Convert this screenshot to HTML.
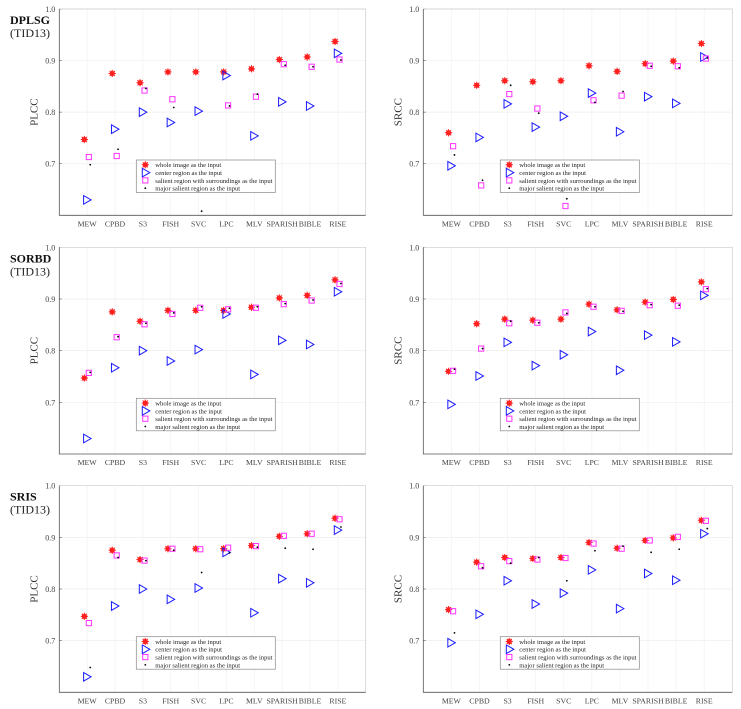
<!DOCTYPE html>
<html><head><meta charset="utf-8"><style>
html,body{margin:0;padding:0;background:#fff;}
svg{display:block;font-family:"Liberation Serif",serif;}
</style></head><body>
<svg id="fig" width="741" height="709" viewBox="0 0 741 709" xmlns="http://www.w3.org/2000/svg"></svg>
<script>
const categories=["MEW","CPBD","S3","FISH","SVC","LPC","MLV","SPARISH","BIBLE","RISE"];
const yTicks=[0.7,0.8,0.9,1.0];
const yTickLabels=["0.7","0.8","0.9","1.0"];
const legendLabels=["whole image as the input","center region as the input","salient region with surroundings as the input","major salient region as the input"];
const plccWhole=[0.747,0.875,0.857,0.878,0.878,0.878,0.884,0.902,0.907,0.937];
const plccCenter=[0.630,0.767,0.800,0.780,0.802,0.871,0.754,0.820,0.812,0.914];
const srccWhole=[0.760,0.852,0.861,0.859,0.861,0.890,0.879,0.894,0.899,0.933];
const srccCenter=[0.696,0.751,0.816,0.771,0.792,0.837,0.762,0.830,0.817,0.907];
const dplsgPlccSal=[0.713,0.715,0.842,0.825,0.59,0.813,0.830,0.893,0.888,0.902];
const dplsgPlccMajor=[0.698,0.728,0.846,0.809,0.608,0.812,0.835,0.891,0.888,0.901];
const dplsgSrccSal=[0.734,0.658,0.835,0.807,0.618,0.823,0.832,0.890,0.889,0.904];
const dplsgSrccMajor=[0.717,0.668,0.852,0.798,0.632,0.819,0.840,0.889,0.886,0.905];
const sorbdPlccSal=[0.757,0.826,0.851,0.871,0.883,0.880,0.883,0.890,0.897,0.929];
const sorbdPlccMajor=[0.758,0.827,0.853,0.873,0.885,0.882,0.885,0.891,0.898,0.930];
const sorbdSrccSal=[0.761,0.804,0.853,0.854,0.874,0.885,0.877,0.888,0.887,0.919];
const sorbdSrccMajor=[0.764,0.804,0.857,0.854,0.872,0.885,0.876,0.889,0.888,0.920];
const srisPlccSal=[0.734,0.865,0.855,0.878,0.877,0.880,0.883,0.903,0.907,0.935];
const srisPlccMajor=[0.648,0.861,0.855,0.875,0.832,0.870,0.881,0.879,0.877,0.920];
const srisSrccSal=[0.757,0.844,0.854,0.857,0.860,0.888,0.878,0.894,0.901,0.932];
const srisSrccMajor=[0.715,0.841,0.850,0.861,0.816,0.874,0.883,0.871,0.877,0.917];

const NS="http://www.w3.org/2000/svg";
const svg=document.getElementById('fig');
function mk(tag,attrs,parent){const e=document.createElementNS(NS,tag);for(const k in attrs)e.setAttribute(k,attrs[k]);(parent||svg).appendChild(e);return e;}

const panels=[
 {l:59.3,r:365.7,t:9,b:215.3,ylab:"PLCC",title:"DPLSG",w:plccWhole,c:plccCenter,s:dplsgPlccSal,m:dplsgPlccMajor,name:"dplsg-plcc"},
 {l:423.3,r:732.3,t:9,b:215.3,ylab:"SRCC",w:srccWhole,c:srccCenter,s:dplsgSrccSal,m:dplsgSrccMajor,name:"dplsg-srcc"},
 {l:59.3,r:365.7,t:247.3,b:454,ylab:"PLCC",title:"SORBD",w:plccWhole,c:plccCenter,s:sorbdPlccSal,m:sorbdPlccMajor,name:"sorbd-plcc"},
 {l:423.3,r:732.3,t:247.3,b:454,ylab:"SRCC",w:srccWhole,c:srccCenter,s:sorbdSrccSal,m:sorbdSrccMajor,name:"sorbd-srcc"},
 {l:59.3,r:365.7,t:485.7,b:692.3,ylab:"PLCC",title:"SRIS",w:plccWhole,c:plccCenter,s:srisPlccSal,m:srisPlccMajor,name:"sris-plcc"},
 {l:423.3,r:732.3,t:485.7,b:692.3,ylab:"SRCC",w:srccWhole,c:srccCenter,s:srisSrccSal,m:srisSrccMajor,name:"sris-srcc"}
];

function star(g,x,y){
  const s=mk('g',{},g);
  
  
  mk('circle',{cx:x,cy:y,r:2.6,fill:'#ff2020'},s);
  const d=3.6;
  mk('path',{d:`M${x-d},${y}H${x+d}M${x},${y-d}V${y+d}M${x-2.6},${y-2.6}L${x+2.6},${y+2.6}M${x-2.6},${y+2.6}L${x+2.6},${y-2.6}`,stroke:'#ff2020','stroke-width':1},s);
}
function tri(g,x,y){
  const p=mk('path',{d:`M${x-3},${y-4.3}L${x+4.5},${y}L${x-3},${y+4.3}Z`,fill:'none',stroke:'#1a1aff','stroke-width':1},g);
  
  
}
function sq(g,x,y){
  const p=mk('rect',{x:x-2.6,y:y-2.6,width:5.2,height:5.2,fill:'none',stroke:'#ff33ff','stroke-width':1},g);
  
  
}
function dot(g,x,y){
  const p=mk('circle',{cx:x,cy:y,r:0.9,fill:'#000'},g);
  
  
}

panels.forEach(P=>{
  const g=mk('g',{});
  
  
  const xs=i=>P.l+(P.r-P.l)*(i+1)/11;
  const xo=(i,o)=>P.l+(P.r-P.l)*(i+1+o)/11;
  const ys=v=>P.b-(v-0.6)/0.4*(P.b-P.t);
  yTicks.forEach((v,k)=>{
    mk('line',{x1:P.l,x2:P.r,y1:ys(v),y2:ys(v),stroke:'#ededed','stroke-width':0.7},g);
    const t=mk('text',{x:P.l-4,y:ys(v)+3,'font-size':8,'text-anchor':'end',fill:'#444'},g);
    t.textContent=yTickLabels[k];
    
    
    mk('line',{x1:P.l,x2:P.l+2.5,y1:ys(v),y2:ys(v),stroke:'#555','stroke-width':0.6},g);
  });
  categories.forEach((c,i)=>{
    mk('line',{x1:xs(i),x2:xs(i),y1:P.t,y2:P.b,stroke:'#f2f2f2','stroke-width':0.7},g);
    const t=mk('text',{x:xs(i),y:P.b+11,'font-size':7.8,'text-anchor':'middle',fill:'#444'},g);
    t.textContent=c;
    
    
  });
  mk('path',{d:`M${P.l},${P.t}H${P.r}V${P.b}`,stroke:'#ccc','stroke-width':0.7,fill:'none'},g);
  mk('path',{d:`M${P.l},${P.t}V${P.b}H${P.r}`,stroke:'#555','stroke-width':0.8,fill:'none'},g);
  const yl=mk('text',{x:0,y:0,'font-size':11,'text-anchor':'middle',fill:'#333',transform:`translate(${P.l-22},${(P.t+P.b)/2}) rotate(-90)`},g);
  yl.textContent=P.ylab;
  
  
  if(P.title){
    const t1=mk('text',{x:10,y:P.t+15,'font-size':12,'font-weight':'bold',fill:'#111'},g);
    t1.textContent=P.title;
    
    
    const t2=mk('text',{x:10,y:P.t+28,'font-size':12,fill:'#222'},g);
    t2.textContent="(TID13)";
    
    
  }
  const inR=v=>v>=0.6&&v<=1.0;
  categories.forEach((c,i)=>{
    if(inR(P.w[i]))star(g,xo(i,-0.1),ys(P.w[i]));
    if(inR(P.c[i]))tri(g,xo(i,-0.02),ys(P.c[i]));
    if(inR(P.s[i]))sq(g,xo(i,0.06),ys(P.s[i]));
    if(inR(P.m[i]))dot(g,xo(i,0.11),ys(P.m[i]));
  });
  const lx=P.l+77,ly=P.t+151;
  const lg=mk('g',{},g);
  
  
  mk('rect',{x:lx,y:ly,width:139,height:32.5,fill:'#fff',stroke:'#888','stroke-width':0.7},lg);
  const fns=[star,tri,sq,dot];
  legendLabels.forEach((lab,k)=>{
    const yy=ly+4.8+k*7.8;
    fns[k](lg,lx+9,yy);
    const t=mk('text',{x:lx+19,y:yy+2.4,'font-size':6.6,fill:'#222'},lg);
    t.textContent=lab;
    
    
  });
});
</script>
</body></html>
